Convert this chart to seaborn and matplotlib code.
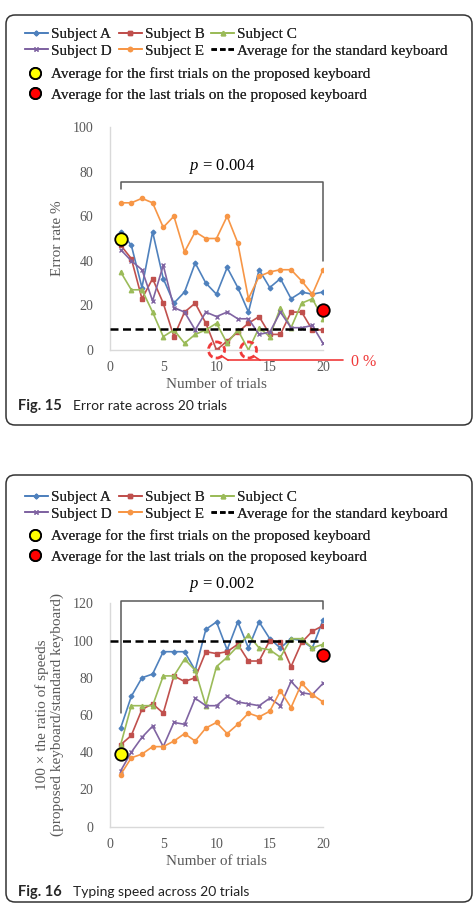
import matplotlib

matplotlib.use("Agg")
import matplotlib.pyplot as plt
import seaborn as sns
from matplotlib.lines import Line2D
from matplotlib.patches import FancyBboxPatch

# ---- data ----
trials = list(range(1, 21))
subjects = ["Subject A", "Subject B", "Subject C", "Subject D", "Subject E"]

err_a = [53, 47, 28, 53, 32, 21, 26, 39, 30, 25, 37, 28, 17, 36, 28, 32, 23, 26, 25, 26]
err_b = [47, 41, 23, 32, 21, 6, 17, 21, 12, 0, 4, 8, 12, 15, 7, 7, 17, 17, 9, 9]
err_c = [35, 27, 27, 17, 6, 9, 3, 7, 9, 12, 3, 9, 0, 10, 6, 19, 10, 21, 23, 14]
err_d = [45, 40, 36, 22, 38, 19, 17, 9, 17, 15, 17, 14, 14, 7, 8, 17, 10, 10, 11, 3]
err_e = [66, 66, 68, 66, 55, 60, 44, 53, 50, 50, 60, 48, 23, 33, 35, 36, 36, 31, 25, 36]
err_std = 9.5
err_first = 50
err_last = 18

spd_a = [53, 70, 80, 82, 94, 94, 94, 84, 106, 110, 95, 110, 96, 110, 101, 96, 101, 100, 96, 111]
spd_b = [44, 49, 63, 66, 61, 81, 78, 80, 94, 93, 94, 98, 89, 89, 100, 99, 86, 99, 105, 108]
spd_c = [44, 65, 65, 65, 81, 81, 90, 84, 65, 86, 91, 97, 103, 96, 95, 91, 101, 101, 96, 98]
spd_d = [30, 40, 48, 54, 43, 56, 55, 69, 65, 65, 70, 67, 66, 65, 69, 65, 78, 72, 71, 77]
spd_e = [28, 37, 39, 43, 43, 46, 50, 46, 53, 56, 50, 55, 61, 59, 62, 73, 64, 77, 71, 67]
spd_std = 100
spd_first = 39
spd_last = 92

COLORS = {"Subject A": "#4F81BD", "Subject B": "#C0504D", "Subject C": "#9BBB59",
          "Subject D": "#8064A2", "Subject E": "#F79646"}
MARKERS = {"Subject A": "D", "Subject B": "s", "Subject C": "^", "Subject D": "x", "Subject E": "o"}
SIZES = {"Subject A": 2.4, "Subject B": 3.2, "Subject C": 3.2, "Subject D": 3.2, "Subject E": 3.0}
GREY = "#595959"
SERIF = ["Liberation Serif", "DejaVu Serif"]
SANS = ["Lato", "DejaVu Sans"]

W_PX, H_PX = 475, 907


def fx(x):
    return x / W_PX


def fy(y):
    return 1 - y / H_PX


def draw_panel(ax, series, std, first, last, ymax, ylabel, p_text, br_left, br_top, br_right, p_y):
    for name, vals in zip(subjects, series):
        sns.lineplot(x=trials, y=vals, color=COLORS[name], marker=MARKERS[name],
                     markersize=SIZES[name], markeredgecolor=COLORS[name], markeredgewidth=1.0,
                     linewidth=1.2, ax=ax)

    ax.axhline(std, color="black", lw=1.8, ls=(0, (3.2, 1.8)), zorder=5)
    ax.plot([trials[0]], [first], "o", ms=9, mfc="#FFFF00", mec="black", mew=1.3, zorder=8, clip_on=False)
    ax.plot([trials[-1]], [last], "o", ms=9, mfc="#FF0000", mec="black", mew=1.3, zorder=8, clip_on=False)

    # significance bracket
    ax.plot([trials[0], trials[0], trials[-1], trials[-1]], [br_left, br_top, br_top, br_right],
            color=GREY, lw=1.1, clip_on=False, zorder=3)
    ax.text(10.5, p_y, p_text, ha="center", va="center", fontsize=12, color="black", family=SERIF)

    ax.set_xlim(0, 20)
    ax.set_ylim(0, ymax)
    ax.set_xticks([0, 5, 10, 15, 20])
    ax.set_yticks(range(0, ymax + 1, 20))
    ax.set_xlabel("Number of trials", fontsize=11, color=GREY, labelpad=3)
    ax.set_ylabel(ylabel, fontsize=11, color=GREY, labelpad=6)
    for side in ["top", "right"]:
        ax.spines[side].set_visible(False)
    for side in ["left", "bottom"]:
        ax.spines[side].set_color("#D9D9D9")
        ax.spines[side].set_linewidth(1.0)
    ax.tick_params(axis="both", length=3, color="#D9D9D9", labelcolor=GREY, labelsize=10)
    ax.tick_params(axis="x", pad=5)
    ax.tick_params(axis="y", pad=9)
    ax.grid(False)


def add_box_and_legend(fig, top_px, bottom_px, row1, row2, mrow1, mrow2, caption_y, fig_no, caption):
    box = FancyBboxPatch((0.06, (H_PX - bottom_px) / 100), 4.66, (bottom_px - top_px) / 100,
                         boxstyle="round,pad=0,rounding_size=0.09", transform=fig.dpi_scale_trans,
                         fill=False, ec="#333333", lw=1.1)
    fig.add_artist(box)

    handles = {}
    for name in subjects:
        handles[name] = Line2D([], [], color=COLORS[name], marker=MARKERS[name], ms=SIZES[name],
                               mec=COLORS[name], lw=1.4, label=name)
    std_h = Line2D([], [], color="black", lw=1.8, ls=(0, (2.2, 1.2)),
                   label="Average for the standard keyboard")
    order = [handles["Subject A"], handles["Subject D"], handles["Subject B"],
             handles["Subject E"], handles["Subject C"], std_h]
    leg = fig.legend(handles=order, ncol=3, loc="center left",
                     bbox_to_anchor=(fx(25), fy((row1 + row2) / 2)), frameon=False,
                     prop={"family": SERIF, "size": 11}, handlelength=1.5, handletextpad=0.2,
                     columnspacing=0.45, labelspacing=0.2, borderpad=0, borderaxespad=0)
    fig.add_artist(leg)

    first_h = Line2D([], [], ls="none", marker="o", ms=8, mfc="#FFFF00", mec="black", mew=1.3,
                     label="Average for the first trials on the proposed keyboard")
    last_h = Line2D([], [], ls="none", marker="o", ms=8, mfc="#FF0000", mec="black", mew=1.3,
                    label="Average for the last trials on the proposed keyboard")
    leg2 = fig.legend(handles=[first_h, last_h], loc="center left",
                      bbox_to_anchor=(fx(27), fy((mrow1 + mrow2) / 2)), frameon=False,
                      prop={"family": SERIF, "size": 11}, handlelength=1.0, handletextpad=0.55,
                      labelspacing=0.45, borderpad=0, borderaxespad=0)
    fig.add_artist(leg2)

    fig.text(fx(18), fy(caption_y), fig_no, fontsize=10.5, weight="bold", family=SANS,
             va="center", ha="left")
    fig.text(fx(73), fy(caption_y), caption, fontsize=10, family=SANS, va="center", ha="left",
             color="#222222")


def main():
    sns.set_style("white")
    plt.rcParams["font.family"] = SERIF
    plt.rcParams["mathtext.fontset"] = "custom"
    plt.rcParams["mathtext.it"] = "Liberation Serif:italic"
    plt.rcParams["mathtext.rm"] = "Liberation Serif"

    fig = plt.figure(figsize=(W_PX / 100, H_PX / 100), dpi=100)

    # ---- Fig. 15 : error rate ----
    ax1 = fig.add_axes([fx(110), fy(350), (323 - 110) / W_PX, (350 - 127) / H_PX])
    draw_panel(ax1, [err_a, err_b, err_c, err_d, err_e], err_std, err_first, err_last, 100,
               "Error rate %", r"$p$ = 0.004", 72, 75.5, 40, 82.5)

    # zero-error highlights
    red = "#F03A3A"
    zero_t = [t for vals in (err_b, err_c) for t, v in zip(trials, vals) if v == 0]
    ax1.scatter(zero_t, [0] * len(zero_t), s=135, facecolors="none", edgecolors=red,
                linewidths=2.0, linestyles=(0, (2.4, 1.2)), zorder=9, clip_on=False)
    for t in zero_t:
        ax1.plot([t + 0.55, t + 1.1], [-2.9, -4.6], color=red, lw=1.2, clip_on=False)
    ax1.plot([zero_t[0] + 1.1, 21.9], [-4.6, -4.6], color=red, lw=1.2, clip_on=False)
    ax1.text(22.6, -5.3, "0 %", color=red, fontsize=11.5, va="center", ha="left")

    add_box_and_legend(fig, 15, 425, 33, 52, 73, 96, 406, "Fig. 15", "Error rate across 20 trials")

    # ---- Fig. 16 : typing speed ----
    ax2 = fig.add_axes([fx(110), fy(826.7), (323 - 110) / W_PX, (826.7 - 603.3) / H_PX])
    draw_panel(ax2, [spd_a, spd_b, spd_c, spd_d, spd_e], spd_std, spd_first, spd_last, 120,
               "100 × the ratio of speeds\n(proposed keyboard/standard keyboard)",
               r"$p$ = 0.002", 61, 121.5, 117, 130)

    add_box_and_legend(fig, 475, 902, 497, 514, 536, 557, 892, "Fig. 16", "Typing speed across 20 trials")

    fig.savefig("out.png", dpi=100)


if __name__ == "__main__":
    main()
